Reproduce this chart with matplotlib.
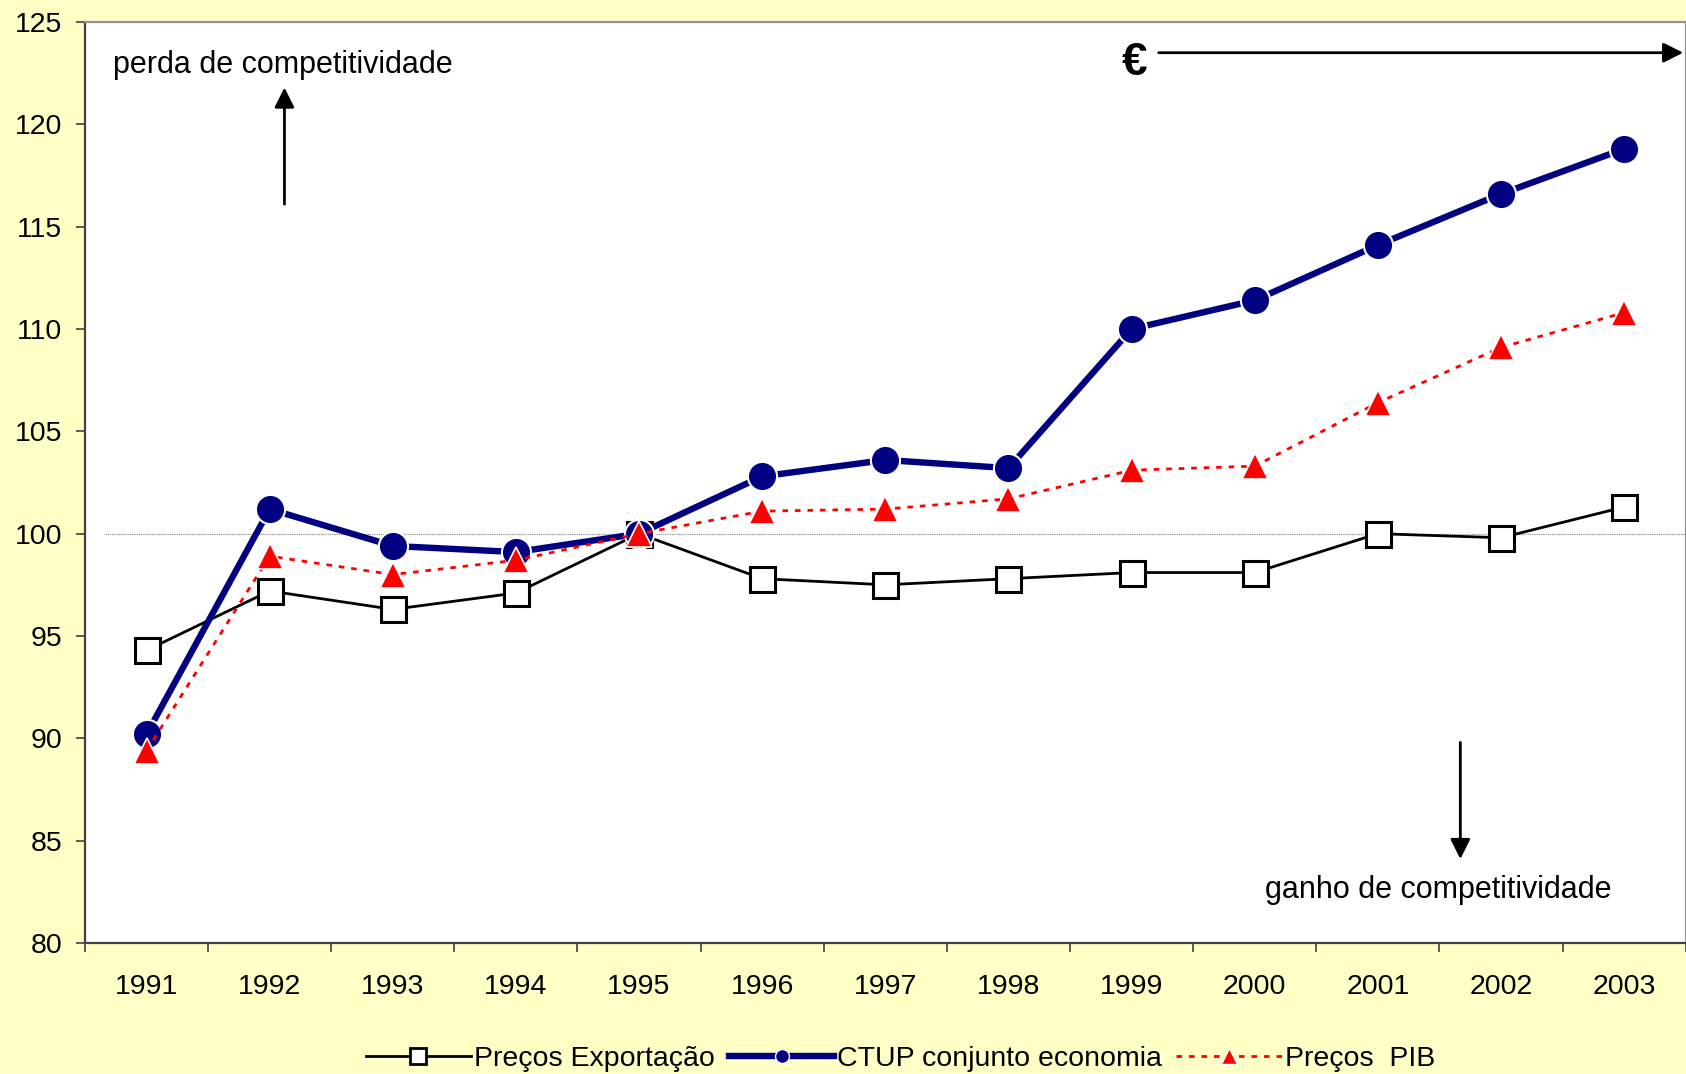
import matplotlib
matplotlib.use('Agg')
import matplotlib.pyplot as plt
from matplotlib.lines import Line2D


# =============================================================================
#                     Competitividade: precos e CTUP (1995=100)               #
# =============================================================================

years = ['1991', '1992', '1993', '1994', '1995', '1996', '1997',
         '1998', '1999', '2000', '2001', '2002', '2003']
precos_exportacao = [94.3, 97.2, 96.3, 97.1, 100.0, 97.8, 97.5,
                     97.8, 98.1, 98.1, 100.0, 99.8, 101.3]
ctup_economia = [90.2, 101.2, 99.4, 99.1, 100.0, 102.8, 103.6,
                 103.2, 110.0, 111.4, 114.1, 116.6, 118.8]
precos_pib = [89.4, 98.9, 98.0, 98.7, 100.0, 101.1, 101.2,
              101.7, 103.1, 103.3, 106.4, 109.1, 110.8]
labels = ['Preços Exportação', 'CTUP conjunto economia', 'Preços  PIB']

_BG = '#FFFFC6'
_NAVY = '#000080'
_RED = '#FF0000'

plt.rcParams['font.family'] = ['Liberation Sans', 'DejaVu Sans']

fig = plt.figure(figsize=(16.86, 10.74), dpi=100, facecolor=_BG)
ax = fig.add_axes([0.0504, 0.122, 0.9494, 0.8575])
ax.set_facecolor('white')

x = list(range(len(years)))

# Reference line at 100, starts a bit inside the plot area:
ax.plot([-0.34, 12.5], [100, 100], color='#808080', lw=0.8, ls=(0, (1, 1)), zorder=1)

ax.plot(x, precos_exportacao, color='black', lw=2.0, marker='s', markersize=18,
        markerfacecolor='white', markeredgecolor='black', markeredgewidth=2.2, zorder=3)
ax.plot(x, ctup_economia, color=_NAVY, lw=4.6, marker='o', markersize=21,
        markerfacecolor=_NAVY, markeredgecolor='white', markeredgewidth=1.5, zorder=4)
ax.plot(x, precos_pib, color=_RED, lw=2.0, ls=(0, (2, 2.5)), marker='^', markersize=19,
        markerfacecolor=_RED, markeredgecolor='white', markeredgewidth=1.2, zorder=5)

# Axes limits and ticks (category axis, ticks between categories):
ax.set_xlim(-0.5, 12.5)
ax.set_ylim(80, 125)
ax.set_yticks(range(80, 126, 5))
ax.set_xticks([i - 0.5 for i in range(len(years) + 1)])
ax.set_xticklabels([])
ax.set_xticks(x, minor=True)
ax.set_xticklabels(years, minor=True)
ax.tick_params(axis='x', which='major', direction='out', length=6.5, width=1.2, color='#404040')
ax.tick_params(axis='x', which='minor', length=0, pad=22, labelsize=20.5)
ax.tick_params(axis='y', direction='out', length=6.5, width=1.2, color='#404040', pad=10, labelsize=20.5)

for side in ['left', 'bottom']:
    ax.spines[side].set_color('#404040')
    ax.spines[side].set_linewidth(1.6)
for side in ['top', 'right']:
    ax.spines[side].set_color('#909090')
    ax.spines[side].set_linewidth(1.6)

# Annotations:
arrow_style = dict(arrowstyle='-|>,head_length=0.6,head_width=0.3', lw=2.0, color='black',
                   shrinkA=0, shrinkB=0, mutation_scale=20)
ax.text(-0.27, 122.9, 'perda de competitividade', fontsize=22, ha='left', va='center')
ax.annotate('', xy=(1.12, 121.8), xytext=(1.12, 116.1), arrowprops=arrow_style)
ax.text(8.02, 123.0, '€', fontsize=33, fontweight='bold', ha='center', va='center')
ax.annotate('', xy=(12.48, 123.5), xytext=(8.22, 123.5), arrowprops=arrow_style)
ax.annotate('', xy=(10.67, 84.1), xytext=(10.67, 89.8), arrowprops=arrow_style)
ax.text(10.49, 82.6, 'ganho de competitividade', fontsize=22, ha='center', va='center')

# Legend at the bottom of the figure:
handles = [
    Line2D([], [], color='black', lw=2.0, marker='s', markersize=11,
           markerfacecolor='white', markeredgecolor='black', markeredgewidth=2),
    Line2D([], [], color=_NAVY, lw=4.6, marker='o', markersize=10,
           markerfacecolor=_NAVY, markeredgecolor='white', markeredgewidth=1),
    Line2D([], [], color=_RED, lw=2.0, ls=(0, (2, 2.5)), marker='^', markersize=11,
           markerfacecolor=_RED, markeredgecolor='white', markeredgewidth=1),
]
fig.legend(handles, labels, loc='center', bbox_to_anchor=(0.534, 0.014), ncol=3,
           frameon=False, fontsize=20.5, handlelength=3.7, handletextpad=0.1,
           columnspacing=0.5, borderaxespad=0)

plt.savefig('out.png', dpi=100, facecolor=_BG)
